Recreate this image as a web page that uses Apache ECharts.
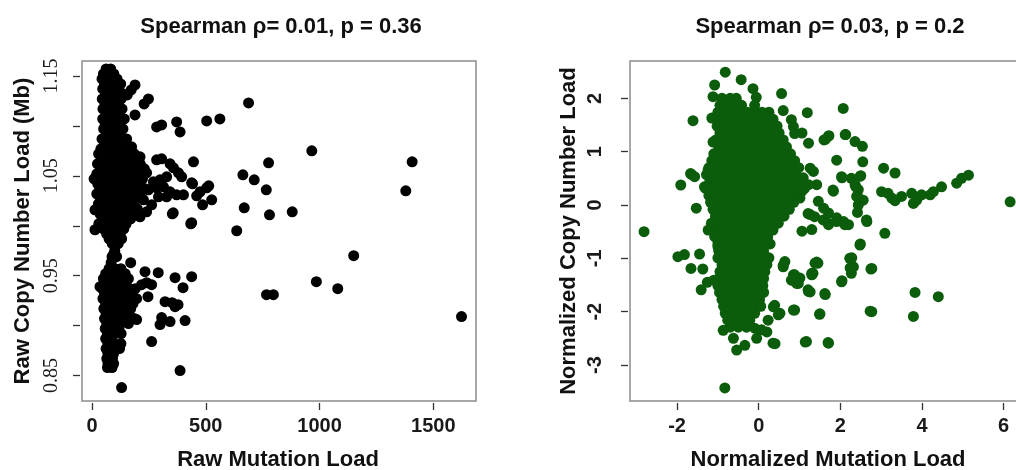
<!DOCTYPE html>
<html>
<head>
<meta charset="utf-8">
<script src="https://cdn.jsdelivr.net/npm/echarts@6/dist/echarts.min.js"></script>
<style>html,body{margin:0;padding:0;background:#fff;}#c{width:1016px;height:470px;}</style>
</head>
<body>
<div id="c"></div>
<script>
// ---------- Titles and tick labels ----------
const leftTitle = 'Spearman \u03c1= 0.01, p = 0.36';
const rightTitle = 'Spearman \u03c1= 0.03, p = 0.2';
const leftXName = 'Raw Mutation Load';
const leftYName = 'Raw Copy Number Load (Mb)';
const rightXName = 'Normalized Mutation Load';
const rightYName = 'Normalized Copy Number Load';
const rawXTicks = [0, 500, 1000, 1500];
const rawYTicks = [0.85, 0.90, 0.95, 1.00, 1.05, 1.10, 1.15];
const rawYLabels = [0.85, 0.95, 1.05, 1.15];
const normXTicks = [-2, 0, 2, 4, 6];
const normYTicks = [-3, -2, -1, 0, 1, 2];

// ---------- Left panel: raw loads ----------
// dense column, read band by band: [copy number load, mutation loads...]
const rawDenseBands = [
  [1.157, 62, 82],
  [1.152, 50, 74, 96],
  [1.147, 44, 68, 90, 110],
  [1.142, 55, 80, 104, 126],
  [1.137, 47, 70, 95, 118],
  [1.132, 60, 86, 110, 138],
  [1.127, 45, 72, 100, 128],
  [1.122, 57, 88, 115],
  [1.117, 48, 78, 104, 132],
  [1.112, 62, 92, 120],
  [1.107, 47, 74, 100, 142],
  [1.102, 58, 88, 116],
  [1.097, 51, 80, 108, 136],
  [1.092, 64, 95, 124],
  [1.087, 44, 72, 101, 152],
  [1.082, 57, 88, 118, 140],
  [1.077, 39, 69, 98, 130, 168],
  [1.072, 29, 55, 85, 114, 150, 186],
  [1.067, 44, 75, 104, 135, 165, 200],
  [1.062, 24, 55, 87, 119, 150, 180, 212],
  [1.057, 40, 71, 100, 131, 161, 194, 230],
  [1.052, 21, 52, 82, 112, 144, 176, 206],
  [1.047, 9, 38, 67, 98, 128, 159, 191, 222],
  [1.042, 25, 55, 86, 116, 146, 178, 210],
  [1.037, 34, 65, 95, 125, 157, 190, 234],
  [1.032, 21, 50, 80, 110, 140, 171, 204],
  [1.027, 38, 68, 98, 128, 158, 188, 221],
  [1.022, 28, 58, 88, 118, 150, 182],
  [1.017, 45, 75, 105, 135, 168, 199],
  [1.012, 35, 65, 95, 125, 155, 186],
  [1.007, 45, 75, 105, 136, 170],
  [1.002, 30, 60, 90, 120, 150],
  [0.997, 50, 80, 110, 140],
  [0.992, 64, 95, 124],
  [0.987, 75, 104, 130],
  [0.982, 89, 115],
  [0.975, 100],
  [0.969, 88, 108],
  [0.963, 84],
  [0.957, 75, 100, 127],
  [0.952, 60, 88, 115, 146],
  [0.947, 50, 78, 105, 134, 160],
  [0.942, 64, 92, 120, 150],
  [0.937, 45, 75, 102, 130, 164, 190],
  [0.932, 55, 85, 112, 140, 175],
  [0.927, 48, 78, 105, 135, 160, 196],
  [0.922, 60, 90, 118, 150, 180],
  [0.917, 52, 80, 110, 140, 170],
  [0.912, 62, 92, 120, 155],
  [0.907, 55, 85, 115, 145, 185],
  [0.902, 65, 95, 125, 160],
  [0.897, 58, 88, 118],
  [0.892, 68, 95, 128],
  [0.887, 60, 88],
  [0.882, 70, 95, 127],
  [0.877, 62, 88, 121],
  [0.872, 70, 95],
  [0.867, 65, 90],
  [0.862, 70, 95],
  [0.858, 68, 88]
];
// individual points: [mutation load, copy number load]
const rawSparse = [
  [688,1.123],[504,1.105],[562,1.107],[284,1.099],[306,1.101],[372,1.104],[387,1.094],
  [248,1.127],[229,1.122],[189,1.141],[172,1.136],[155,1.131],[189,1.111],
  [966,1.075],[1407,1.064],[1379,1.035],[776,1.063],[663,1.051],[713,1.046],[766,1.036],
  [669,1.018],[780,1.011],[880,1.014],[636,0.995],[446,1.064],[438,1.043],[475,1.034],
  [504,1.038],[526,1.026],[486,1.021],[460,1.030],[513,1.040],[442,1.042],[438,1.003],
  [353,1.012],[434,1.002],[1150,0.970],[986,0.944],[1080,0.937],[767,0.931],[797,0.931],[1624,0.909],
  [284,1.066],[306,1.067],[343,1.062],[358,1.058],[380,1.053],[394,1.049],[328,1.049],
  [299,1.046],[270,1.044],[240,1.053],[248,1.036],[284,1.038],[314,1.039],[343,1.034],
  [372,1.031],[402,1.031],[328,1.029],[292,1.029],[262,1.021],[226,1.026],[240,1.014],
  [211,1.009],[182,1.066],[196,1.059],[211,1.069],[174,1.079],[357,1.013],
  [170,0.963],[233,0.954],[291,0.953],[365,0.948],[438,0.949],[400,0.938],[240,0.943],
  [262,0.941],[218,0.941],[246,0.929],[321,0.924],[352,0.923],[378,0.921],[365,0.919],
  [306,0.908],[343,0.904],[409,0.905],[299,0.901],[262,0.884],[387,0.855],[130,0.838],
  [182,0.926],[196,0.906],[94,0.971],[13,1.016],[13,0.996],[35,0.939]
];

// ---------- Right panel: normalized loads ----------
// dense core, band by band: [copy number load, mutation loads...]
const normDenseBands = [
  [2.0, -0.9, -0.7, -0.55],
  [1.87, -0.95, -0.78, -0.6, -0.42, -0.1],
  [1.74, -1.0, -0.82, -0.64, -0.46, -0.28, -0.1, 0.08, 0.25],
  [1.61, -0.92, -0.74, -0.56, -0.38, -0.2, -0.02, 0.16, 0.35],
  [1.48, -1.02, -0.84, -0.66, -0.48, -0.3, -0.12, 0.06, 0.24, 0.45],
  [1.35, -0.95, -0.77, -0.59, -0.41, -0.23, -0.05, 0.13, 0.31, 0.5],
  [1.22, -1.05, -0.87, -0.69, -0.51, -0.33, -0.15, 0.03, 0.21, 0.4, 0.6],
  [1.09, -0.98, -0.8, -0.62, -0.44, -0.26, -0.08, 0.1, 0.28, 0.48, 0.68],
  [0.96, -1.1, -0.92, -0.74, -0.56, -0.38, -0.2, -0.02, 0.16, 0.34, 0.55, 0.78],
  [0.83, -1.15, -0.97, -0.79, -0.61, -0.43, -0.25, -0.07, 0.11, 0.29, 0.47, 0.66, 0.88],
  [0.7, -1.22, -1.04, -0.86, -0.68, -0.5, -0.32, -0.14, 0.04, 0.22, 0.4, 0.58, 0.78, 0.98],
  [0.57, -1.28, -1.1, -0.92, -0.74, -0.56, -0.38, -0.2, -0.02, 0.16, 0.34, 0.52, 0.72, 0.92],
  [0.44, -1.2, -1.02, -0.84, -0.66, -0.48, -0.3, -0.12, 0.06, 0.24, 0.42, 0.62, 0.82, 1.05],
  [0.31, -1.3, -1.12, -0.94, -0.76, -0.58, -0.4, -0.22, -0.04, 0.14, 0.32, 0.5, 0.7, 0.9, 1.12],
  [0.18, -1.22, -1.04, -0.86, -0.68, -0.5, -0.32, -0.14, 0.04, 0.22, 0.4, 0.6, 0.8, 1.0],
  [0.05, -1.18, -1.0, -0.82, -0.64, -0.46, -0.28, -0.1, 0.08, 0.26, 0.44, 0.64, 0.86],
  [-0.08, -1.12, -0.94, -0.76, -0.58, -0.4, -0.22, -0.04, 0.14, 0.32, 0.52, 0.75],
  [-0.21, -1.06, -0.88, -0.7, -0.52, -0.34, -0.16, 0.02, 0.2, 0.4, 0.62],
  [-0.34, -1.16, -1.0, -0.82, -0.64, -0.46, -0.28, -0.1, 0.08, 0.26, 0.48],
  [-0.47, -1.12, -0.95, -0.77, -0.59, -0.41, -0.23, -0.05, 0.13, 0.35],
  [-0.6, -1.06, -0.88, -0.7, -0.52, -0.34, -0.16, 0.02, 0.22],
  [-0.73, -1.0, -0.83, -0.65, -0.47, -0.29, -0.11, 0.07, 0.28],
  [-0.86, -0.98, -0.8, -0.62, -0.44, -0.26, -0.08, 0.12],
  [-0.99, -1.0, -0.85, -0.67, -0.49, -0.31, -0.13, 0.05, 0.25],
  [-1.12, -0.9, -0.72, -0.54, -0.36, -0.18, 0.0, 0.2],
  [-1.25, -0.95, -0.77, -0.59, -0.41, -0.23, -0.05, 0.15],
  [-1.38, -0.98, -0.8, -0.62, -0.44, -0.26, -0.08, 0.12],
  [-1.51, -1.0, -0.82, -0.64, -0.46, -0.28, -0.1, 0.1],
  [-1.64, -0.96, -0.78, -0.6, -0.42, -0.24, -0.06, 0.12],
  [-1.77, -0.9, -0.72, -0.54, -0.36, -0.18, 0.02],
  [-1.9, -0.86, -0.68, -0.5, -0.32, -0.14, 0.05],
  [-2.03, -0.82, -0.64, -0.46, -0.28, -0.1],
  [-2.16, -0.76, -0.58, -0.4, -0.22],
  [-2.29, -0.7, -0.5, -0.3]
];
// individual points: [mutation load, copy number load]
const normSparse = [
  [-2.81,-0.5],[6.16,0.06],[-0.83,-3.43],[-1.61,1.58],[-1.15,1.63],[-1.12,1.18],[-1.91,0.375],
  [-1.64,0.57],[-1.53,-0.06],[-1.98,-0.97],[-1.82,-0.93],[-1.45,-0.92],[-1.66,-1.19],[-1.37,-1.2],
  [-1.41,-1.59],[-1.26,-1.45],[-1.1,-1.41],[-1.67,0.59],[-1.57,0.53],[-1.24,0.66],[-1.33,0.34],
  [-1.24,-0.47],[-1.08,-0.59],[-1.0,-0.78],
  [-0.82,2.49],[-0.43,2.35],[-1.08,2.25],[-1.12,2.03],[-0.14,2.18],[-0.06,2.02],[0.56,2.09],
  [1.19,1.73],[2.07,1.81],[0.6,1.77],[0.8,1.6],[0.85,1.47],[0.88,1.34],[1.06,1.35],[1.22,1.16],
  [1.6,1.22],[1.72,1.3],[2.13,1.32],[2.36,1.19],[2.54,1.1],[1.91,0.84],[2.55,0.81],[2.03,0.53],
  [2.27,0.5],[2.5,0.55],[1.82,0.28],[2.38,0.34],[2.42,0.17],[2.44,0.0],[2.42,-0.14],[2.56,0.09],
  [2.64,-0.28],[3.06,0.69],[3.34,0.6],
  [3.01,0.25],[3.17,0.22],[3.26,0.13],[3.34,0.08],[3.5,0.16],[3.75,0.22],[3.87,0.09],[3.79,0.03],
  [3.99,0.19],[4.2,0.19],[4.28,0.25],[4.48,0.34],[4.85,0.41],[4.97,0.5],[5.14,0.56],
  [3.09,-0.53],[2.48,-0.75],[2.23,-1.0],[2.32,-1.16],[2.27,-1.28],[2.03,-1.44],[2.77,-1.19],
  [2.77,-2.0],[3.83,-1.64],[4.4,-1.72],[3.79,-2.09],[1.7,-2.58],[1.17,-2.56],[1.5,-2.04],
  [0.88,-1.97],[1.62,-1.66],[1.45,-1.09],[1.33,-1.28],[1.21,-1.59],[0.97,-1.47],[0.88,-1.31],
  [0.8,-1.41],[0.35,-2.59],[0.2,-2.38],[0.07,-2.34],[-0.1,-2.31],[0.39,-1.88],[0.52,-2.03],
  [0.23,-2.16],[0.64,-1.06],[0.6,-1.16],
  [1.26,0.69],[1.34,0.63],[1.09,0.51],[1.22,0.38],[1.42,0.38],[1.06,0.26],[1.46,0.07],[1.83,0.26],
  [2.04,0.51],[2.49,0.54],[2.36,0.38],[2.44,0.29],[2.4,0.16],[1.01,0.13],[1.26,-0.18],[1.59,-0.06],
  [1.71,-0.15],[1.91,-0.24],[2.08,-0.31],[2.2,-0.37],[1.71,-0.37],[1.3,-0.46],[1.06,-0.49],
  [2.65,-0.31],[2.49,-0.73],[1.42,-1.07],[1.3,-1.31],[1.01,-1.37],[1.22,-1.62],[1.63,-1.68],
  [2.28,-0.99],[2.24,-1.18],[2.04,-1.42],[2.75,-1.2],[2.73,-1.99],[1.49,-2.05],[1.14,-2.57],
  [1.71,-2.59],[1.71,1.29],[1.63,1.23],[2.12,1.32],
  [1.21,-0.16],[1.37,-0.22],[1.58,-0.28],[1.7,-0.34],[1.91,-0.31],[2.11,-0.37],
  [-0.87,-2.35],[-0.62,-2.5],[-0.54,-2.72],[-0.34,-2.63],[-0.05,-2.5],[0.4,-2.6],
  [0.36,-1.91],[0.48,-2.06],[0.85,-1.97],[0.6,-1.13],[0.85,-1.31],[0.93,-1.47],[1.26,-1.63],
  [1.3,-1.28],[1.38,-1.09]
];

// ---------- build point lists ----------
function fromBands(bands) {
  const out = [];
  bands.forEach(b => { for (let i = 1; i < b.length; i++) out.push([b[i], b[0]]); });
  return out;
}
const rawPoints = fromBands(rawDenseBands).concat(rawSparse);
const normPoints = fromBands(normDenseBands).concat(normSparse);

const chart = echarts.init(document.getElementById('c'), null, {renderer: 'canvas'});
const tickStyle = {show: true, inside: false, length: 7, lineStyle: {color: '#333', width: 1.3}};
const sansBold = {fontFamily: '"Liberation Sans", Arial, sans-serif', fontWeight: 'bold', fontSize: 20, color: '#1a1a1a'};
const titleFont = 'bold 22px "Liberation Sans", Arial, sans-serif';
const hiddenLine = {show: false, onZero: false};
const plain = v => String(v);

function txt(text, x, y, rot) {
  return {type: 'text', x: x, y: y, rotation: rot || 0, silent: true,
    style: {text: text, font: titleFont, fill: '#111', textAlign: 'center', textVerticalAlign: 'middle', align: 'center', verticalAlign: 'middle'}};
}

chart.setOption({
  animation: false,
  backgroundColor: '#fff',
  grid: [
    {left: 82, top: 61, width: 394, height: 340, show: true, borderColor: '#8c8c8c', borderWidth: 1.5, backgroundColor: 'transparent', outerBoundsMode: 'none', containLabel: false},
    {left: 630, top: 61, width: 394, height: 340, show: true, borderColor: '#8c8c8c', borderWidth: 1.5, backgroundColor: 'transparent', outerBoundsMode: 'none', containLabel: false}
  ],
  xAxis: [
    {gridIndex: 0, type: 'value', position: 'bottom', min: -44, max: 1687.6, offset: 2,
      axisLine: hiddenLine, splitLine: {show: false},
      axisTick: Object.assign({customValues: rawXTicks}, tickStyle),
      axisLabel: Object.assign({customValues: rawXTicks, margin: 13, formatter: plain}, sansBold)},
    {gridIndex: 1, type: 'value', position: 'bottom', min: -3.154, max: 6.50, offset: 2,
      axisLine: hiddenLine, splitLine: {show: false},
      axisTick: Object.assign({customValues: normXTicks}, tickStyle),
      axisLabel: Object.assign({customValues: normXTicks, margin: 13, formatter: plain}, sansBold)}
  ],
  yAxis: [
    {gridIndex: 0, type: 'value', position: 'left', min: 0.8245, max: 1.165, offset: 2,
      axisLine: hiddenLine, splitLine: {show: false},
      axisTick: Object.assign({customValues: rawYTicks}, tickStyle),
      axisLabel: {customValues: rawYLabels, rotate: 90, margin: 18,
        fontFamily: '"Liberation Serif", "Times New Roman", serif', fontSize: 20, color: '#1a1a1a',
        formatter: v => Number(v).toFixed(2)}},
    {gridIndex: 1, type: 'value', position: 'left', min: -3.675, max: 2.70, offset: 2,
      axisLine: hiddenLine, splitLine: {show: false},
      axisTick: Object.assign({customValues: normYTicks}, tickStyle),
      axisLabel: Object.assign({customValues: normYTicks, rotate: 90, margin: 23, formatter: plain}, sansBold)}
  ],
  series: [
    {type: 'scatter', xAxisIndex: 0, yAxisIndex: 0, data: rawPoints, symbol: 'circle', symbolSize: 11,
      itemStyle: {color: '#000', opacity: 1}, silent: true, large: false},
    {type: 'scatter', xAxisIndex: 1, yAxisIndex: 1, data: normPoints, symbol: 'circle', symbolSize: 11,
      itemStyle: {color: '#0b5d0b', opacity: 1}, silent: true, large: false}
  ],
  graphic: [
    txt(leftTitle, 281, 27),
    txt(rightTitle, 830, 27),
    txt(leftXName, 278, 460),
    txt(rightXName, 828, 460),
    txt(leftYName, 23, 231, Math.PI / 2),
    txt(rightYName, 569, 231, Math.PI / 2)
  ]
});
</script>
</body>
</html>
